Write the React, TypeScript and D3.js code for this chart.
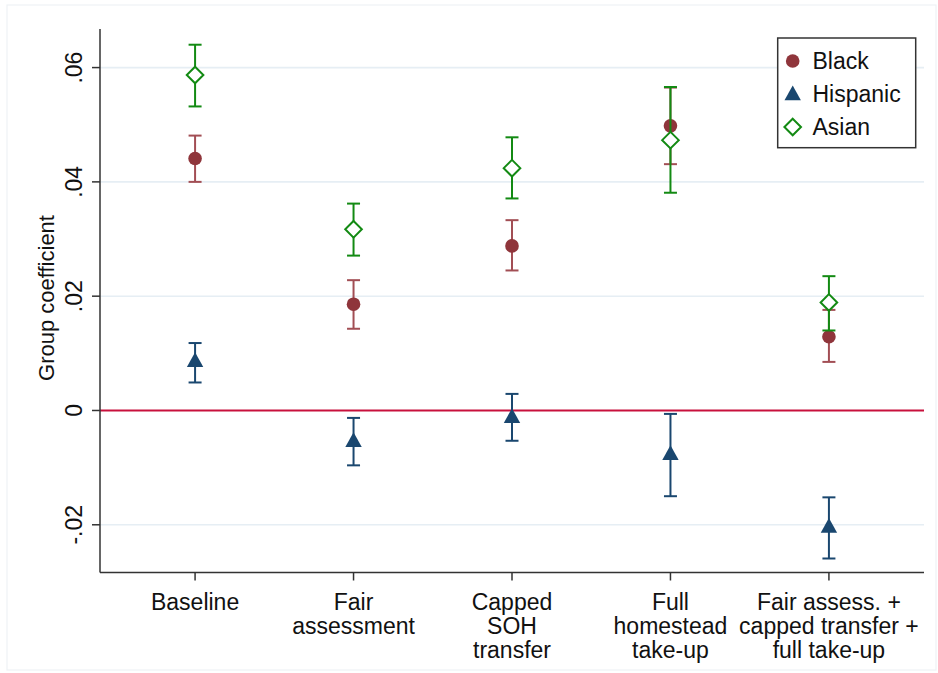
import React from "react";
import * as d3 from "d3";

const categories = [
  ["Baseline"],
  ["Fair", "assessment"],
  ["Capped", "SOH", "transfer"],
  ["Full", "homestead", "take-up"],
  ["Fair assess. +", "capped transfer +", "full take-up"],
];

const blackCoef = [0.0441, 0.0186, 0.0288, 0.0498, 0.0129];
const blackLo = [0.0400, 0.0143, 0.0245, 0.0431, 0.0085];
const blackHi = [0.0481, 0.0228, 0.0333, 0.0565, 0.0176];

const hispCoef = [0.0087, -0.0053, -0.0011, -0.0076, -0.0203];
const hispLo = [0.0049, -0.0096, -0.0053, -0.0150, -0.0259];
const hispHi = [0.0118, -0.0013, 0.0029, -0.0006, -0.0152];

const asianCoef = [0.0587, 0.0317, 0.0424, 0.0473, 0.0189];
const asianLo = [0.0532, 0.0271, 0.0371, 0.0381, 0.0140];
const asianHi = [0.0640, 0.0362, 0.0478, 0.0566, 0.0235];

const yTicks = [-0.02, 0, 0.02, 0.04, 0.06];
const yTickLabels = ["-.02", "0", ".02", ".04", ".06"];
const legendLabels = ["Black", "Hispanic", "Asian"];

const W = 938;
const H = 673;
const left = 100;
const right = 924;
const top = 29;
const bottom = 572.5;

const FONT = "Arial, 'Liberation Sans', Helvetica, sans-serif";
const MAROON = "#8f353b";
const MAROON_CI = "#a24e54";
const NAVY = "#1a476f";
const GREEN = "#138a13";
const ZERO = "#c8103c";
const GRID = "#e6eef4";
const AXIS = "#333333";

export default function App() {
  const x = d3
    .scalePoint<number>()
    .domain(categories.map((_, i) => i))
    .range([left, right])
    .padding(0.6);
  const y = d3.scaleLinear().domain([-0.02835, 0.06675]).range([bottom, top]);

  const capW = 6.5;

  const series = [
    { name: "Black", coef: blackCoef, lo: blackLo, hi: blackHi, color: MAROON, ci: MAROON_CI, shape: "circle" },
    { name: "Hispanic", coef: hispCoef, lo: hispLo, hi: hispHi, color: NAVY, ci: NAVY, shape: "triangle" },
    { name: "Asian", coef: asianCoef, lo: asianLo, hi: asianHi, color: GREEN, ci: GREEN, shape: "diamond" },
  ];

  const marker = (shape: string, cx: number, cy: number, color: string, key: string) => {
    if (shape === "circle") return <circle key={key} cx={cx} cy={cy} r={6.8} fill={color} />;
    if (shape === "triangle") {
      const s = 8.2;
      const p = `M${cx},${cy - s * 1.05} L${cx + s},${cy + s * 0.75} L${cx - s},${cy + s * 0.75} Z`;
      return <path key={key} d={p} fill={color} />;
    }
    const d = 8.3;
    const p = `M${cx},${cy - d} L${cx + d},${cy} L${cx},${cy + d} L${cx - d},${cy} Z`;
    return <path key={key} d={p} fill="white" stroke={color} strokeWidth={2} />;
  };

  return (
    <svg width={W} height={H} style={{ position: "absolute", left: 0, top: 0, background: "white" }} fontFamily={FONT}>
      <rect x={7} y={5} width={W - 9} height={H - 8} fill="white" stroke="#eef2f5" strokeWidth={1.2} />
      {yTicks.map((t, i) =>
        t === 0 ? null : (
          <line key={"g" + i} x1={left} x2={right} y1={y(t)} y2={y(t)} stroke={GRID} strokeWidth={1.6} />
        )
      )}
      <line x1={left} x2={right} y1={y(0)} y2={y(0)} stroke={ZERO} strokeWidth={2} />
      <line x1={left} x2={left} y1={top} y2={bottom} stroke={AXIS} strokeWidth={1.5} />
      <line x1={left} x2={right} y1={bottom} y2={bottom} stroke={AXIS} strokeWidth={1.5} />
      {yTicks.map((t, i) => (
        <g key={"yt" + i}>
          <line x1={left - 8} x2={left} y1={y(t)} y2={y(t)} stroke={AXIS} strokeWidth={1.5} />
          <text
            transform={`translate(${82},${y(t)}) rotate(-90)`}
            textAnchor="middle"
            fontSize={23}
            fill="#111"
          >
            {yTickLabels[i]}
          </text>
        </g>
      ))}
      <text transform={`translate(${54},${298}) rotate(-90)`} textAnchor="middle" fontSize={22} fill="#111">
        Group coefficient
      </text>
      {categories.map((lines, i) => (
        <g key={"xt" + i}>
          <line x1={x(i)!} x2={x(i)!} y1={bottom} y2={bottom + 8} stroke={AXIS} strokeWidth={1.5} />
          {lines.map((ln, j) => (
            <text key={j} x={x(i)!} y={609.5 + j * 24} textAnchor="middle" fontSize={23} fill="#111">
              {ln}
            </text>
          ))}
        </g>
      ))}
      {series.map((s) => (
        <g key={s.name}>
          {s.coef.map((c, i) => {
            const cx = x(i)!;
            return (
              <g key={i}>
                <line x1={cx} x2={cx} y1={y(s.lo[i])} y2={y(s.hi[i])} stroke={s.ci} strokeWidth={2} />
                <line x1={cx - capW} x2={cx + capW} y1={y(s.lo[i])} y2={y(s.lo[i])} stroke={s.ci} strokeWidth={2} />
                <line x1={cx - capW} x2={cx + capW} y1={y(s.hi[i])} y2={y(s.hi[i])} stroke={s.ci} strokeWidth={2} />
                {marker(s.shape, cx, y(c), s.color, "m" + i)}
              </g>
            );
          })}
        </g>
      ))}
      <rect x={777.7} y={38} width={138} height={109.7} fill="white" stroke={AXIS} strokeWidth={1.5} />
      {series.map((s, i) => {
        const cy = 61 + i * 33;
        return (
          <g key={"lg" + i}>
            {marker(s.shape, 792.7, cy, s.color, "lm" + i)}
            <text x={812.5} y={cy + 8} fontSize={23} fill="#111">
              {legendLabels[i]}
            </text>
          </g>
        );
      })}
    </svg>
  );
}
